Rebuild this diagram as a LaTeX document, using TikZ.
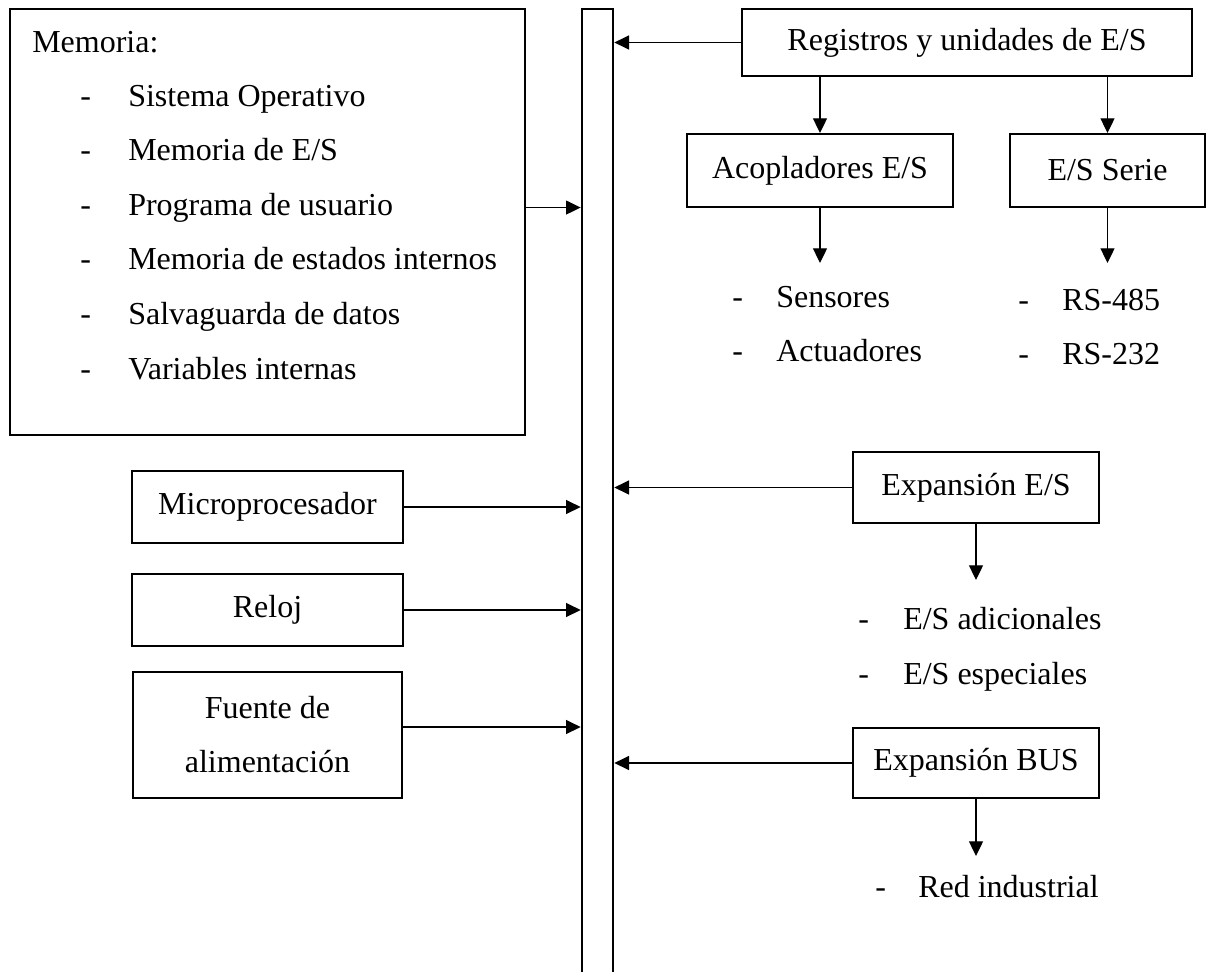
\documentclass[tikz,border=0pt]{standalone}
\usepackage{fontspec}
\setmainfont{Liberation Serif}
\usetikzlibrary{arrows.meta,positioning,calc}

\begin{document}
\begin{tikzpicture}[
    x=0.75pt, y=-0.75pt,
    every node/.style={font=\fontsize{24}{29}\selectfont},
    blk/.style={draw, line width=1.5pt, inner sep=0pt, align=center},
    busbar/.style={draw, line width=2pt, inner sep=0pt,
                   minimum width=23.25pt, minimum height=732pt},
    arr/.style={-{Triangle[length=11pt,width=10.5pt]}, line width=0.9pt},
    item/.style={anchor=base west, inner sep=0pt},
]

% ── Frame ───────────────────────────────────────────────────────
\useasboundingbox (0,0) rectangle (1213,971);
\clip (0,0) rectangle (1213,971);

% ── Bus ─────────────────────────────────────────────────────────
\node[busbar] (bus) at (597.5,497) {};

% ── Memoria ─────────────────────────────────────────────────────
\node[blk, minimum width=386.25pt, minimum height=319.5pt] (mem) at (267.5,222) {};
\node[item] (memtit) at (32,52) {Memoria:};
\foreach \txt [count=\i] in {Sistema Operativo, Memoria de E/S, Programa de usuario,
    Memoria de estados internos, Salvaguarda de datos, Variables internas}{
  \node[item] (md\i) at (80,{106+54.6*(\i-1)}) {-};
  \node[item] (m\i) at (128,{106+54.6*(\i-1)}) {\txt};
}
\draw[arr] (m3.west -| mem.east) -- (m3.west -| bus.west);

% ── Left blocks ─────────────────────────────────────────────────
\node[blk, minimum width=203.25pt, minimum height=54pt] (micro) at (267.5,507) {Microprocesador};
\node[blk, minimum width=203.25pt, minimum height=54pt] (reloj) at (267.5,610) {Reloj};
\node[blk, minimum width=201.75pt, minimum height=94.5pt,
      font=\fontsize{24}{40.5}\selectfont] (fuente) at (267.5,735) {Fuente de\\alimentación};

\draw[arr] (micro.east) -- (micro.east -| bus.west);
\draw[arr] (reloj.east) -- (reloj.east -| bus.west);
\draw[arr] ([yshift=6pt]fuente.east) -- ([yshift=6pt]fuente.east -| bus.west);

% ── Registros y unidades de E/S ─────────────────────────────────
\node[blk, minimum width=337.5pt, minimum height=50.25pt] (reg) at (967,42.5) {Registros y unidades de E/S};
\draw[arr] (reg.west) -- (reg.west -| bus.east);

\node[blk, minimum width=199.5pt, minimum height=54.75pt] (acop) at (820,170.5) {Acopladores E/S};
\node[blk, minimum width=146.25pt, minimum height=54.75pt] (serie) at (1107.5,170.5) {E/S Serie};

\draw[arr] (reg.south -| acop.north) -- (acop.north);
\draw[arr] (reg.south -| serie.north) -- (serie.north);

\coordinate (acopout) at ($(acop.south)+(0,55)$);
\coordinate (serieout) at ($(serie.south)+(0,55)$);
\draw[arr] (acop.south) -- (acopout);
\draw[arr] (serie.south) -- (serieout);

\node[item] (sd1) at (732,307) {-};
\node[item] (sen) at (776,307) {Sensores};
\node[item] (sd2) at (732,361) {-};
\node[item] (act) at (776,361) {Actuadores};

\node[item] (rd1) at (1018,310) {-};
\node[item] (rs485) at (1062,310) {RS-485};
\node[item] (rd2) at (1018,364) {-};
\node[item] (rs232) at (1062,364) {RS-232};

% ── Expansión E/S ───────────────────────────────────────────────
\node[blk, minimum width=184.5pt, minimum height=53.25pt] (expes) at (976,487.5) {Expansión E/S};
\draw[arr] (expes.west) -- (expes.west -| bus.east);

\coordinate (expesout) at ($(expes.south)+(0,56)$);
\draw[arr] (expes.south) -- (expesout);

\node[item] (ed1) at (858,629) {-};
\node[item] (esad) at (903,629) {E/S adicionales};
\node[item] (ed2) at (858,684) {-};
\node[item] (esesp) at (903,684) {E/S especiales};

% ── Expansión BUS ───────────────────────────────────────────────
\node[blk, minimum width=184.5pt, minimum height=52.5pt] (expbus) at (976,763) {Expansión BUS};
\draw[arr] (expbus.west) -- (expbus.west -| bus.east);

\coordinate (expbusout) at ($(expbus.south)+(0,57)$);
\draw[arr] (expbus.south) -- (expbusout);

\node[item] (bd1) at (875,897) {-};
\node[item] (red) at (918,897) {Red industrial};

\end{tikzpicture}
\end{document}
